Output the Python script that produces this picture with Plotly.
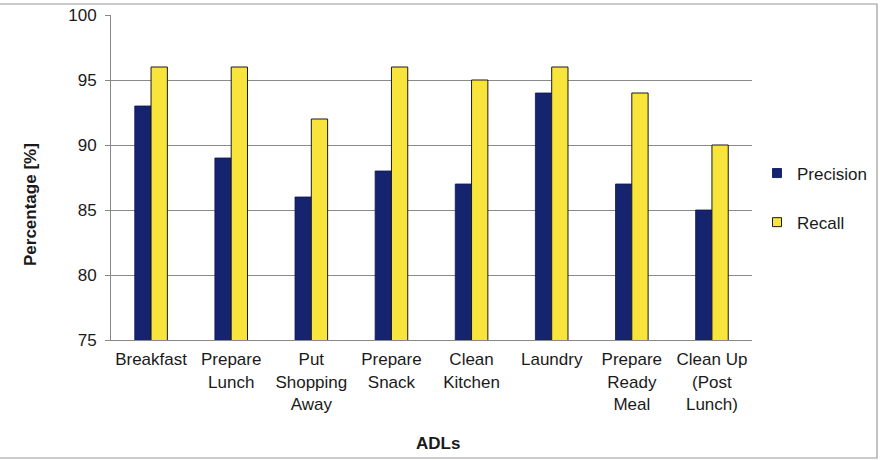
import plotly.graph_objects as go

categories = ["Breakfast", "Prepare<br>Lunch", "Put<br>Shopping<br>Away", "Prepare<br>Snack",
              "Clean<br>Kitchen", "Laundry", "Prepare<br>Ready<br>Meal", "Clean Up<br>(Post<br>Lunch)"]
precision = [93, 89, 86, 88, 87, 94, 87, 85]
recall = [96, 96, 92, 96, 95, 96, 94, 90]
y_ticks = [75, 80, 85, 90, 95, 100]

PREC_COLOR = "#16246f"
REC_COLOR = "#f9e43c"

L, R, T, B = 111, 131, 15, 120
W, H = 883, 460
pw, ph = W - L - R, H - T - B

def px_x(p): return (p - L) / pw
def px_y(p): return (H - B - p) / ph

fig = go.Figure()
fig.add_trace(go.Bar(x=categories, y=precision, name="Precision", showlegend=False,
                     marker=dict(color=PREC_COLOR, line=dict(color="#0d1650", width=0.8))))
fig.add_trace(go.Bar(x=categories, y=recall, name="Recall", showlegend=False,
                     marker=dict(color=REC_COLOR, line=dict(color="#1a1a1a", width=1))))
# legend entries with small square markers
fig.add_trace(go.Scatter(x=[None], y=[None], mode="markers", name="Precision", legendgroup="p",
                         marker=dict(symbol="square", size=9, color=PREC_COLOR,
                                     line=dict(color=PREC_COLOR, width=1))))
fig.add_trace(go.Scatter(x=[None], y=[None], mode="markers", name="Recall", legendgroup="r",
                         marker=dict(symbol="square", size=9, color=REC_COLOR,
                                     line=dict(color="#1a1a1a", width=1))))

fig.add_shape(type="rect", xref="paper", yref="paper",
              x0=px_x(-3), x1=px_x(877), y0=px_y(458), y1=px_y(4),
              line=dict(color="#9a9a9a", width=1.2), layer="above")

fig.add_annotation(text="<b>Percentage [%]</b>", xref="paper", yref="paper",
                   x=px_x(31), y=px_y(205), textangle=-90, showarrow=False,
                   xanchor="center", yanchor="middle", font=dict(size=17, color="#1a1a1a"))
fig.add_annotation(text="<b>ADLs</b>", xref="paper", yref="paper",
                   x=px_x(438), y=px_y(443), showarrow=False,
                   xanchor="center", yanchor="middle", font=dict(size=17, color="#1a1a1a"))

fig.update_layout(
    width=W, height=H,
    margin=dict(l=L, r=R, t=T, b=B, autoexpand=False),
    paper_bgcolor="white", plot_bgcolor="white",
    font=dict(family="Liberation Sans, Arial", size=17, color="#1a1a1a"),
    barmode="group", bargap=0.593, bargroupgap=0,
    showlegend=True,
    legend=dict(x=px_x(757), y=px_y(198), xanchor="left", yanchor="middle",
                bgcolor="rgba(0,0,0,0)",
                tracegroupgap=24, font=dict(size=17), itemwidth=30),
    xaxis=dict(showline=True, linecolor="#888888", linewidth=1, ticks="",
               ticklabelstandoff=4, tickfont=dict(size=17)),
    yaxis=dict(range=[75, 100], tickvals=y_ticks, showline=True, linecolor="#888888",
               linewidth=1, ticks="outside", ticklen=5, tickcolor="#888888",
               ticklabelstandoff=5,
               gridcolor="#8a8a8a", gridwidth=1,
               tickfont=dict(size=17)),
)
fig.write_html("out.html")
